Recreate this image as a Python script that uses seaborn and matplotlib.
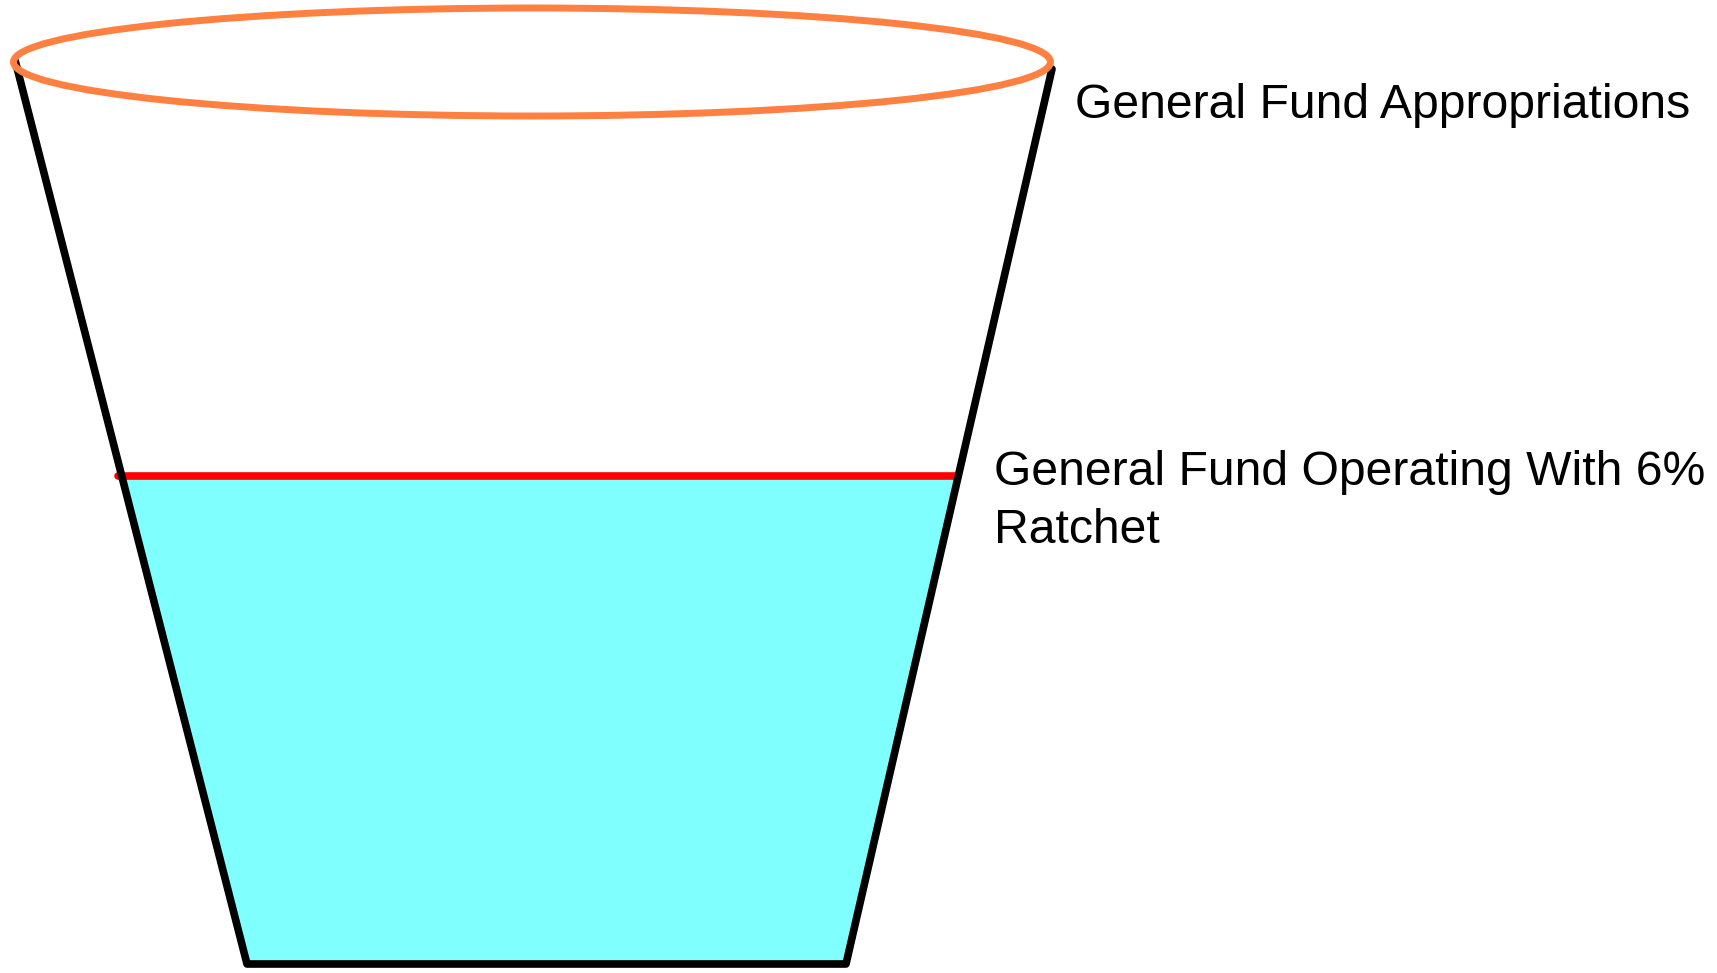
import numpy as np
import pandas as pd
import matplotlib
matplotlib.use("Agg")
import matplotlib.pyplot as plt
from matplotlib.patches import Ellipse
import seaborn as sns

# ---- data (diagram geometry in pixel units of a 1717x973 canvas) ----
bucket_x = [15, 247, 846, 1052]
bucket_y = [60, 964, 964, 69]
rim_center = [532, 62]
rim_size = [1037, 108]
level_y = 476
labels = ["General Fund Appropriations", "General Fund Operating With 6%\nRatchet"]
label_x = [1075, 994]
label_y = [118, 543]

sns.set_theme(style="white")
plt.rcParams['font.family'] = ['Liberation Sans', 'DejaVu Sans']

fig = plt.figure(figsize=(17.17, 9.73), dpi=100)
ax = fig.add_axes([0, 0, 1, 1])
ax.set_xlim(0, 1717)
ax.set_ylim(973, 0)
ax.axis("off")

# water fill below the level line
def wall_x(p0, p1, y):
    (x0, y0), (x1, y1) = p0, p1
    return x0 + (y - y0) / (y1 - y0) * (x1 - x0)

lx = wall_x((bucket_x[0], bucket_y[0]), (bucket_x[1], bucket_y[1]), level_y)
rx = wall_x((bucket_x[3], bucket_y[3]), (bucket_x[2], bucket_y[2]), level_y)
poly_x = [lx, rx, bucket_x[2], bucket_x[1]]
poly_y = [level_y, level_y, bucket_y[2], bucket_y[1]]
ax.fill(poly_x, poly_y, color="#80FFFF", zorder=1, lw=0)

# level line
ax.plot([lx - 4, rx], [level_y, level_y], color="#FF0000", lw=5.5,
        solid_capstyle="round", zorder=3)

# bucket outline
df = pd.DataFrame({"x": bucket_x, "y": bucket_y})
sns.lineplot(data=df, x="x", y="y", sort=False, estimator=None, color="black",
             lw=5.5, ax=ax, zorder=4)
for l in ax.lines[-1:]:
    l.set_solid_capstyle("round")
    l.set_solid_joinstyle("round")

# rim
ax.add_patch(Ellipse(rim_center, rim_size[0], rim_size[1], fill=False,
                     edgecolor="#FF8040", lw=5, zorder=5))

for t, x, y in zip(labels, label_x, label_y):
    ax.text(x, y, t, fontsize=34.7, color="black", ha="left", va="baseline",
            linespacing=1.36)

ax.set_xlim(0, 1717)
ax.set_ylim(973, 0)
fig.savefig("out.png", dpi=100)
